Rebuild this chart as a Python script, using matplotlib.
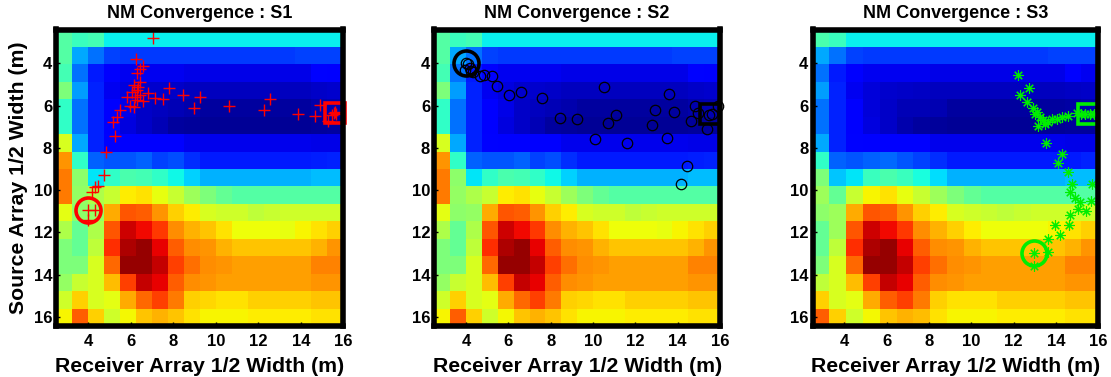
import numpy as np
import matplotlib
matplotlib.use("Agg")
import matplotlib.pyplot as plt

plt.rcParams['font.family'] = ['Liberation Sans', 'DejaVu Sans']
plt.rcParams['font.weight'] = 'bold'

# ---------------- data ----------------
titles = ["NM Convergence : S1", "NM Convergence : S2", "NM Convergence : S3"]
x_label = "Receiver Array 1/2 Width (m)"
y_label = "Source Array 1/2 Width (m)"
tick_values = [4, 6, 8, 10, 12, 14, 16]

# grid edges (receiver / source half-widths)
receiver_edges_s12 = np.linspace(2.5, 16.0, 19)
receiver_edges_s3 = np.linspace(2.5, 16.0, 18)
source_edges = np.linspace(2.4, 16.425, 18)

# normalised cost surface (jet scale 0..1), rows = source, cols = receiver
cost_s12 = [
    [0.45, 0.42, 0.43, 0.36, 0.36, 0.36, 0.36, 0.36, 0.36, 0.36, 0.36, 0.36, 0.36, 0.36, 0.36, 0.36, 0.36, 0.36],
    [0.45, 0.29, 0.235, 0.19, 0.18, 0.18, 0.18, 0.18, 0.18, 0.18, 0.18, 0.18, 0.18, 0.18, 0.18, 0.19, 0.19, 0.19],
    [0.43, 0.235, 0.15, 0.12, 0.10, 0.10, 0.10, 0.10, 0.09, 0.09, 0.09, 0.09, 0.09, 0.09, 0.09, 0.09, 0.125, 0.11],
    [0.50, 0.28, 0.16, 0.10, 0.085, 0.07, 0.07, 0.065, 0.055, 0.055, 0.055, 0.055, 0.055, 0.055, 0.055, 0.055, 0.065, 0.07],
    [0.41, 0.235, 0.16, 0.11, 0.09, 0.065, 0.055, 0.05, 0.04, 0.03, 0.03, 0.03, 0.03, 0.03, 0.03, 0.03, 0.04, 0.045],
    [0.41, 0.235, 0.16, 0.11, 0.085, 0.065, 0.05, 0.03, 0.025, 0.02, 0.02, 0.02, 0.02, 0.02, 0.02, 0.02, 0.025, 0.03],
    [0.61, 0.29, 0.16, 0.125, 0.12, 0.12, 0.12, 0.115, 0.095, 0.095, 0.095, 0.095, 0.095, 0.095, 0.095, 0.095, 0.09, 0.09],
    [0.75, 0.41, 0.22, 0.21, 0.21, 0.22, 0.19, 0.20, 0.17, 0.15, 0.15, 0.15, 0.15, 0.15, 0.15, 0.15, 0.155, 0.16],
    [0.78, 0.52, 0.35, 0.41, 0.44, 0.43, 0.41, 0.37, 0.33, 0.30, 0.30, 0.30, 0.30, 0.30, 0.30, 0.30, 0.31, 0.31],
    [0.78, 0.53, 0.56, 0.59, 0.66, 0.67, 0.63, 0.59, 0.54, 0.50, 0.47, 0.45, 0.45, 0.45, 0.45, 0.45, 0.45, 0.45],
    [0.625, 0.52, 0.53, 0.73, 0.82, 0.81, 0.75, 0.69, 0.66, 0.61, 0.60, 0.60, 0.58, 0.59, 0.60, 0.60, 0.60, 0.60],
    [0.56, 0.47, 0.56, 0.82, 0.93, 0.90, 0.85, 0.76, 0.72, 0.70, 0.67, 0.64, 0.64, 0.64, 0.63, 0.65, 0.67, 0.69],
    [0.50, 0.47, 0.58, 0.86, 0.96, 0.98, 0.91, 0.81, 0.76, 0.75, 0.72, 0.70, 0.70, 0.70, 0.70, 0.70, 0.72, 0.75],
    [0.50, 0.50, 0.61, 0.80, 0.98, 0.98, 0.94, 0.84, 0.79, 0.76, 0.75, 0.74, 0.74, 0.74, 0.74, 0.74, 0.77, 0.77],
    [0.53, 0.59, 0.61, 0.71, 0.84, 0.94, 0.91, 0.81, 0.76, 0.75, 0.74, 0.74, 0.74, 0.74, 0.74, 0.74, 0.75, 0.75],
    [0.60, 0.69, 0.61, 0.625, 0.73, 0.80, 0.84, 0.78, 0.69, 0.68, 0.67, 0.67, 0.69, 0.69, 0.69, 0.69, 0.70, 0.70],
    [0.65, 0.81, 0.69, 0.60, 0.645, 0.70, 0.72, 0.70, 0.67, 0.65, 0.65, 0.65, 0.66, 0.66, 0.66, 0.66, 0.67, 0.67],
]

cost_s3 = [
    [0.44, 0.42, 0.36, 0.36, 0.36, 0.36, 0.36, 0.36, 0.36, 0.36, 0.36, 0.36, 0.36, 0.36, 0.36, 0.36, 0.36],
    [0.29, 0.235, 0.19, 0.18, 0.18, 0.18, 0.18, 0.18, 0.18, 0.18, 0.18, 0.18, 0.18, 0.18, 0.19, 0.19, 0.19],
    [0.235, 0.15, 0.12, 0.10, 0.10, 0.10, 0.10, 0.09, 0.09, 0.09, 0.09, 0.09, 0.09, 0.09, 0.09, 0.125, 0.10],
    [0.28, 0.16, 0.10, 0.08, 0.07, 0.065, 0.06, 0.055, 0.055, 0.055, 0.055, 0.055, 0.055, 0.055, 0.055, 0.06, 0.065],
    [0.235, 0.16, 0.11, 0.08, 0.065, 0.05, 0.05, 0.045, 0.03, 0.03, 0.03, 0.03, 0.03, 0.03, 0.03, 0.035, 0.04],
    [0.235, 0.16, 0.11, 0.085, 0.065, 0.04, 0.03, 0.025, 0.02, 0.02, 0.02, 0.02, 0.02, 0.02, 0.02, 0.025, 0.025],
    [0.29, 0.16, 0.125, 0.12, 0.12, 0.12, 0.12, 0.095, 0.095, 0.095, 0.095, 0.095, 0.095, 0.095, 0.095, 0.09, 0.09],
    [0.41, 0.22, 0.21, 0.22, 0.23, 0.21, 0.19, 0.17, 0.15, 0.15, 0.15, 0.15, 0.15, 0.15, 0.15, 0.15, 0.16],
    [0.50, 0.32, 0.35, 0.42, 0.44, 0.42, 0.38, 0.34, 0.30, 0.30, 0.30, 0.30, 0.30, 0.30, 0.30, 0.31, 0.31],
    [0.54, 0.47, 0.59, 0.65, 0.67, 0.63, 0.59, 0.54, 0.50, 0.47, 0.45, 0.45, 0.45, 0.45, 0.45, 0.45, 0.45],
    [0.52, 0.54, 0.73, 0.82, 0.81, 0.75, 0.69, 0.66, 0.61, 0.60, 0.59, 0.58, 0.59, 0.60, 0.60, 0.60, 0.60],
    [0.47, 0.54, 0.82, 0.93, 0.90, 0.85, 0.76, 0.72, 0.69, 0.66, 0.64, 0.64, 0.64, 0.64, 0.65, 0.67, 0.69],
    [0.47, 0.58, 0.86, 0.96, 0.98, 0.91, 0.81, 0.76, 0.75, 0.72, 0.70, 0.70, 0.70, 0.70, 0.70, 0.72, 0.75],
    [0.50, 0.61, 0.80, 0.98, 0.98, 0.94, 0.84, 0.79, 0.76, 0.75, 0.74, 0.74, 0.74, 0.74, 0.74, 0.77, 0.77],
    [0.58, 0.61, 0.71, 0.84, 0.94, 0.91, 0.81, 0.76, 0.75, 0.74, 0.74, 0.74, 0.74, 0.74, 0.74, 0.75, 0.75],
    [0.69, 0.61, 0.625, 0.73, 0.81, 0.84, 0.78, 0.69, 0.67, 0.67, 0.67, 0.69, 0.69, 0.69, 0.69, 0.70, 0.70],
    [0.81, 0.69, 0.60, 0.645, 0.70, 0.72, 0.71, 0.67, 0.65, 0.65, 0.65, 0.66, 0.66, 0.66, 0.66, 0.67, 0.67],
]

# Nelder-Mead iterates: S1
s1_x = [4.0, 4.3, 4.0, 4.2, 4.32, 4.47, 4.75, 4.83, 5.26, 5.18, 5.37, 5.49, 5.96, 6.15, 5.84, 6.2,
        6.28, 6.59, 6.04, 6.43, 6.28, 6.35, 6.15, 6.43, 6.28, 6.43, 6.59, 6.23, 7.03, 6.82, 7.14,
        7.53, 7.81, 8.47, 9.26, 8.97, 10.64, 12.28, 12.55, 13.88, 14.67, 14.9, 15.3, 15.45, 15.55,
        15.6, 15.65]
s1_y = [10.95, 10.93, 11.43, 10.1, 9.85, 9.82, 9.26, 8.19, 7.45, 6.77, 6.53, 6.21, 6.02, 6.06, 5.61, 5.61,
        5.74, 5.77, 5.35, 5.5, 5.26, 5.1, 5.03, 4.87, 4.47, 4.28, 4.11, 3.81, 2.79, 5.39, 5.66,
        5.69, 5.16, 5.5, 5.61, 6.1, 6.02, 6.21, 5.69, 6.42, 6.48, 5.98, 6.72, 6.45, 6.35,
        6.3, 6.4]
s1_start = (4.0, 10.95)
s1_end = (15.6, 6.35)

# S2
s2_x = [4.0, 4.1, 4.2, 3.95, 4.25, 4.35, 4.66, 4.85, 5.21, 5.45, 6.05, 6.58, 7.58, 8.44, 9.23,
        10.53, 10.09, 10.72, 11.07, 11.62, 12.77, 12.95, 13.48, 13.6, 13.83, 14.43, 14.14, 14.61,
        14.81, 14.97, 15.4, 15.5, 15.6, 15.92]
s2_y = [3.97, 4.05, 4.2, 4.3, 4.35, 4.4, 4.6, 4.55, 4.6, 5.08, 5.5, 5.35, 5.66, 6.58, 6.65,
        5.14, 7.6, 6.84, 6.45, 7.76, 6.92, 6.21, 7.53, 5.47, 6.29, 8.87, 9.69, 6.72,
        6.02, 6.37, 7.13, 6.45, 6.4, 6.02]
s2_start = (4.0, 3.98)
s2_end = (15.55, 6.4)

# S3
s3_x = [12.97, 12.97, 13.65, 13.65, 14.2, 13.96, 14.64, 14.67, 15.06, 15.43, 15.14, 15.65, 14.91,
        14.67, 14.75, 15.7, 14.59, 14.09, 14.28, 13.54, 13.17, 13.65, 13.25, 13.0, 12.94, 12.65,
        12.31, 12.75, 12.2, 13.4, 13.8, 14.04, 14.3, 14.59, 14.99, 15.2, 15.4, 15.6, 15.8, 13.1, 13.5]
s3_y = [12.96, 13.6, 12.93, 12.3, 12.14, 11.66, 11.66, 11.19, 10.87, 10.99, 10.56, 10.51, 10.35,
        10.09, 9.69, 9.69, 9.14, 8.71, 8.3, 7.79, 6.97, 6.77, 6.53, 6.4, 6.13, 5.82,
        5.5, 5.19, 4.55, 6.7, 6.65, 6.61, 6.55, 6.5, 6.37, 6.4, 6.4, 6.4, 6.4, 6.3, 6.85]
s3_start = (12.97, 12.96)
s3_end = (15.54, 6.4)

# ---------------- plot ----------------
W, H = 1111, 377
fig = plt.figure(figsize=(W / 100, H / 100), dpi=100)

ax_left_px = [56.3, 434.3, 812.6]
ax_width_px = [287.0, 285.7, 285.5]
ax_top_px, ax_bottom_px = 29.5, 326.0

panels = [
    dict(edges=receiver_edges_s12, cost=cost_s12, x=s1_x, y=s1_y, start=s1_start, end=s1_end,
         color='#ff0000', marker='+', ms=8, mew=1.0, mfc='none'),
    dict(edges=receiver_edges_s12, cost=cost_s12, x=s2_x, y=s2_y, start=s2_start, end=s2_end,
         color='#000000', marker='o', ms=7.5, mew=0.9, mfc='none'),
    dict(edges=receiver_edges_s3, cost=cost_s3, x=s3_x, y=s3_y, start=s3_start, end=s3_end,
         color='#00ee00', marker=(8, 2, 0), ms=7.5, mew=0.8, mfc='none'),
]

for i, p in enumerate(panels):
    rect = [ax_left_px[i] / W, 1 - ax_bottom_px / H, ax_width_px[i] / W, (ax_bottom_px - ax_top_px) / H]
    ax = fig.add_axes(rect)
    ax.pcolormesh(p['edges'], source_edges, np.array(p['cost']), cmap='jet', vmin=0, vmax=1,
                  shading='flat', rasterized=True)
    ax.set_xlim(2.5, 16.0)
    ax.set_ylim(16.425, 2.4)
    ax.plot(p['x'], p['y'], linestyle='none', marker=p['marker'], ms=p['ms'], mew=p['mew'],
            mec=p['color'], mfc=p['mfc'], color=p['color'], clip_on=False, zorder=3)
    ax.plot([p['start'][0]], [p['start'][1]], linestyle='none', marker='o', ms=18, mew=2.6,
            mec=p['color'], mfc='none', clip_on=False, zorder=4)
    ax.plot([p['end'][0]], [p['end'][1]], linestyle='none', marker='s', ms=14, mew=2.6,
            mec=p['color'], mfc='none', clip_on=False, zorder=4)

    ax.set_xticks(tick_values)
    ax.set_yticks(tick_values)
    ax.tick_params(direction='in', length=3, width=1, labelsize=12, pad=3)
    ax.tick_params(axis='x', pad=6)
    for lab in ax.get_xticklabels() + ax.get_yticklabels():
        lab.set_fontweight('bold')
    for sp in ax.spines.values():
        sp.set_linewidth(4.0)
        sp.set_color('black')
        sp.set_zorder(5)
    ax.set_title(titles[i], fontsize=13, fontweight='bold', pad=8)
    ax.set_xlabel(x_label, fontsize=15.3, fontweight='bold', labelpad=5.5)
    if i == 0:
        ax.set_ylabel(y_label, fontsize=15.3, fontweight='bold', labelpad=4)

fig.savefig('out.png', dpi=100)
